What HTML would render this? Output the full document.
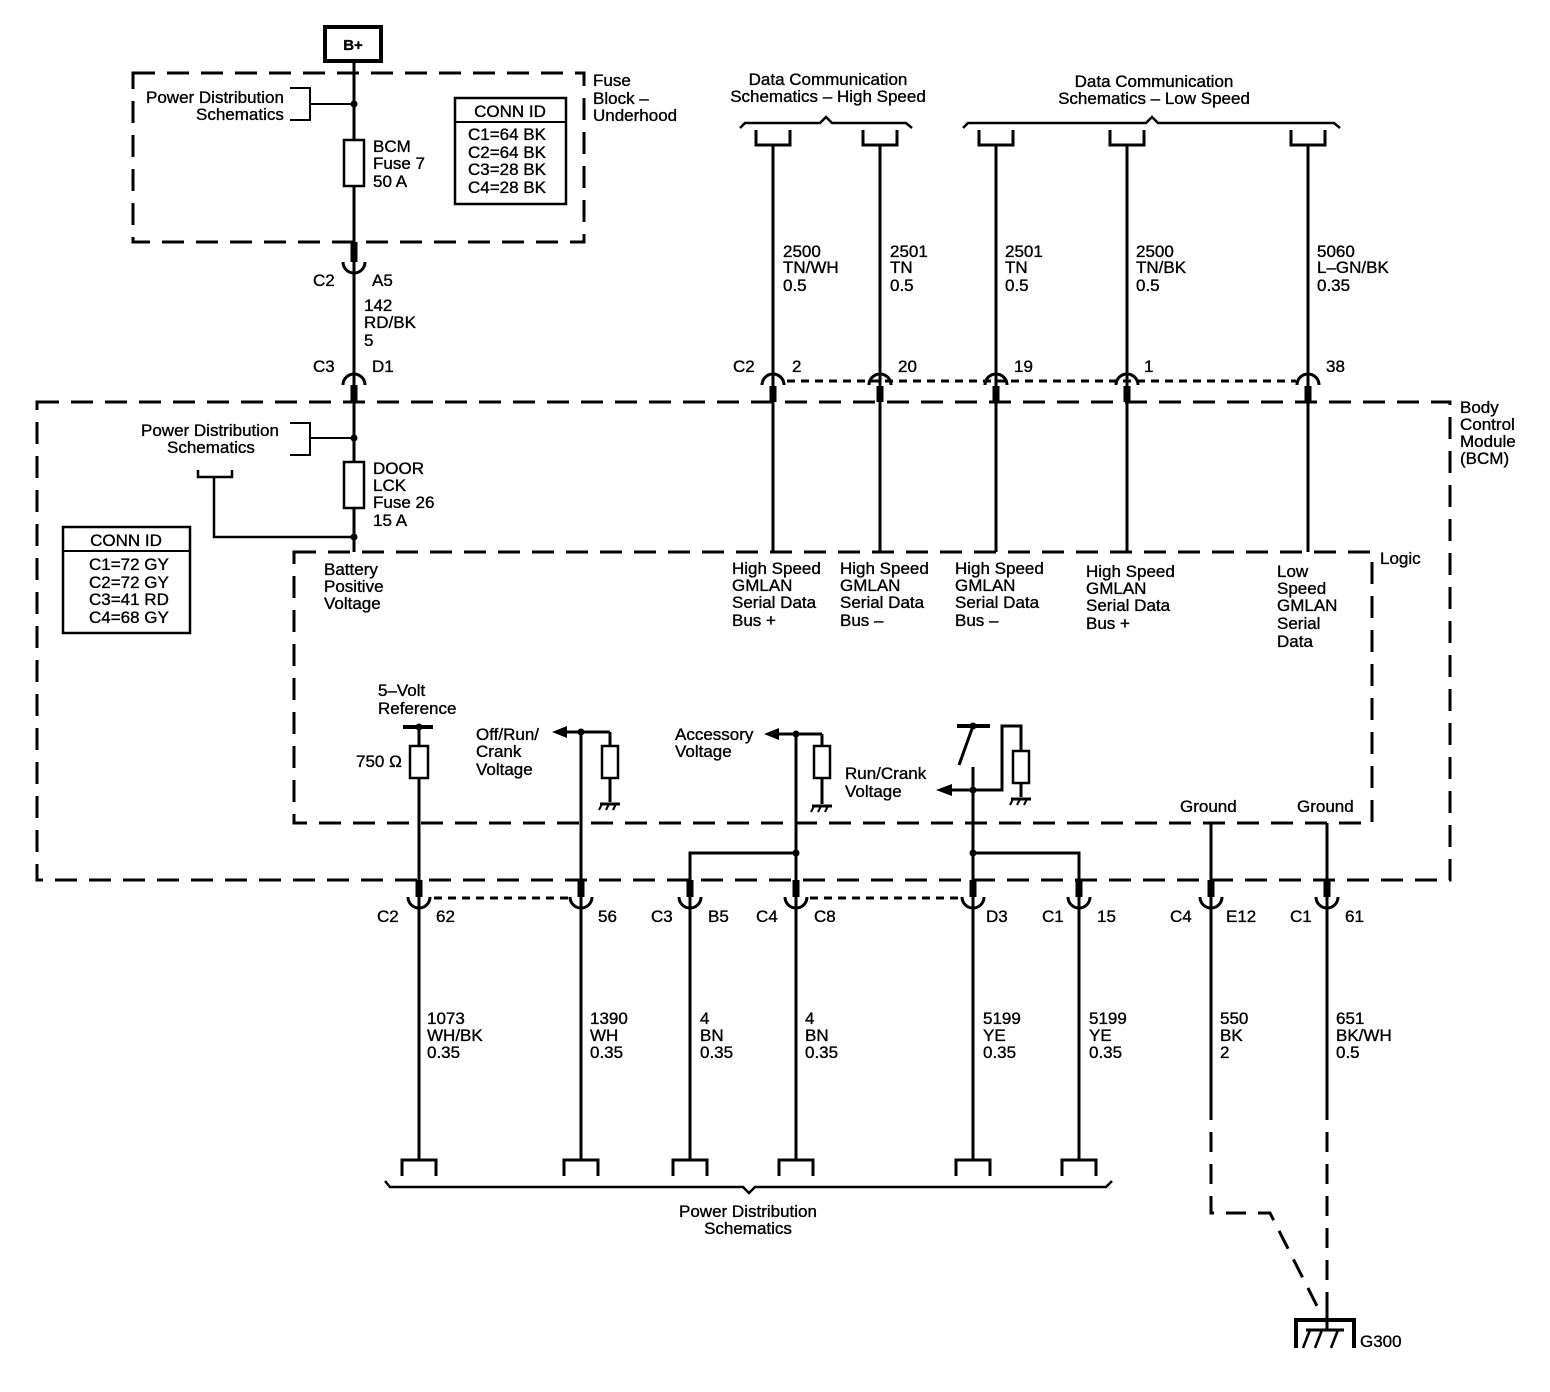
<!DOCTYPE html>
<html><head><meta charset="utf-8"><style>
html,body{margin:0;padding:0;background:#fff}
svg{display:block}
text{font-family:"Liberation Sans",Arial,sans-serif;font-size:17px;fill:#000;stroke:#000;stroke-width:0.35px}
</style></head><body>
<svg width="1550" height="1392" viewBox="0 0 1550 1392" xmlns="http://www.w3.org/2000/svg">
<defs>
<g id="gnd"><line x1="-10" y1="0" x2="10" y2="0" stroke="#000" stroke-width="3"/><line x1="-8" y1="0" x2="-11" y2="6" stroke="#000" stroke-width="2"/><line x1="-1" y1="0" x2="-4" y2="6" stroke="#000" stroke-width="2"/><line x1="6" y1="0" x2="3" y2="6" stroke="#000" stroke-width="2"/></g>
</defs>
<g fill="none" stroke="#000">
<rect x="325" y="27" width="56" height="34" stroke-width="4"/>
<g stroke-width="3" stroke-dasharray="22,12">
<rect x="133" y="73" width="451" height="169"/>
<rect x="37" y="402" width="1413" height="478"/>
<rect x="294" y="552" width="1078" height="271"/>
</g>
<line x1="354" y1="61" x2="354" y2="552" stroke-width="3"/>
<rect x="344" y="140" width="20" height="46" fill="#fff" stroke-width="2.5"/>
<rect x="344" y="462" width="20" height="46" fill="#fff" stroke-width="2.5"/>
<polyline points="290,88 310,88 310,120 290,120" stroke-width="2"/>
<line x1="310" y1="104" x2="354" y2="104" stroke-width="2"/>
<polyline points="290,423 310,423 310,455 290,455" stroke-width="2"/>
<line x1="310" y1="438" x2="354" y2="438" stroke-width="2"/>
<polyline points="198,470 198,477 232,477 232,470" stroke-width="2.5"/>
<polyline points="214,477 214,537 354,537" stroke-width="2.5"/>
<rect x="455" y="98" width="111" height="106" stroke-width="2.5"/>
<line x1="455" y1="122" x2="566" y2="122" stroke-width="2"/>
<rect x="63" y="527" width="127" height="106" stroke-width="2.5"/>
<line x1="63" y1="551" x2="190" y2="551" stroke-width="2"/>
<line x1="354" y1="242" x2="354" y2="262" stroke-width="7"/>
<path d="M343,262 A11,11 0 0 0 365,262" stroke-width="3"/>
<path d="M343,385 A11,11 0 0 1 365,385" stroke-width="3"/>
<line x1="354" y1="385" x2="354" y2="402" stroke-width="7"/>
<g stroke-width="3">
<line x1="773" y1="145" x2="773" y2="552"/>
<line x1="880" y1="145" x2="880" y2="552"/>
<line x1="996" y1="145" x2="996" y2="552"/>
<line x1="1127" y1="145" x2="1127" y2="552"/>
<line x1="1308" y1="145" x2="1308" y2="552"/>
</g>
<g stroke-width="3">
<polyline points="756,130 756,145 790,145 790,130"/>
<polyline points="863,130 863,145 897,145 897,130"/>
<polyline points="979,130 979,145 1013,145 1013,130"/>
<polyline points="1110,130 1110,145 1144,145 1144,130"/>
<polyline points="1291,130 1291,145 1325,145 1325,130"/>
</g>
<path d="M740,128 L745,123 L820,123 L826,117 L832,123 L906,123 L912,128" stroke-width="2.5"/>
<path d="M963,128 L968,123 L1146,123 L1152,117 L1158,123 L1334,123 L1340,128" stroke-width="2.5"/>
<g stroke-width="3">
<path d="M762,385 A11,11 0 0 1 784,385"/>
<path d="M869,385 A11,11 0 0 1 891,385"/>
<path d="M985,385 A11,11 0 0 1 1007,385"/>
<path d="M1116,385 A11,11 0 0 1 1138,385"/>
<path d="M1297,385 A11,11 0 0 1 1319,385"/>
</g>
<line x1="787" y1="381" x2="1296" y2="381" stroke-width="3" stroke-dasharray="8,6"/>
<g stroke-width="7">
<line x1="773" y1="386" x2="773" y2="402"/><line x1="880" y1="386" x2="880" y2="402"/>
<line x1="996" y1="386" x2="996" y2="402"/><line x1="1127" y1="386" x2="1127" y2="402"/>
<line x1="1308" y1="386" x2="1308" y2="402"/>
</g>
<g stroke-width="3">
<line x1="403" y1="727" x2="433" y2="727" stroke-width="4"/>
<line x1="419" y1="727" x2="419" y2="1160"/>
<line x1="565" y1="732" x2="610" y2="732"/>
<line x1="610" y1="732" x2="610" y2="802"/>
<line x1="581" y1="732" x2="581" y2="1160"/>
<line x1="778" y1="734" x2="822" y2="734"/>
<line x1="822" y1="734" x2="822" y2="804"/>
<line x1="796" y1="734" x2="796" y2="1160"/>
<polyline points="690,1160 690,853 796,853"/>
<line x1="957" y1="726" x2="990" y2="726" stroke-width="4"/>
<line x1="973" y1="726" x2="959" y2="765"/>
<line x1="973" y1="767" x2="973" y2="1160"/>
<polyline points="952,790 1002,790 1002,726 1021,726 1021,797"/>
<polyline points="973,853 1079,853 1079,1160"/>
<line x1="1211" y1="823" x2="1211" y2="1100"/>
<line x1="1327" y1="823" x2="1327" y2="1100"/>
</g>
<rect x="410" y="746" width="18" height="32" fill="#fff" stroke-width="2.5"/>
<rect x="602" y="746" width="16" height="32" fill="#fff" stroke-width="2.5"/>
<rect x="814" y="746" width="16" height="32" fill="#fff" stroke-width="2.5"/>
<rect x="1013" y="751" width="16" height="32" fill="#fff" stroke-width="2.5"/>
<use href="#gnd" x="610" y="804"/>
<use href="#gnd" x="822" y="806"/>
<use href="#gnd" x="1021" y="799"/>
<g fill="#000" stroke="none">
<circle cx="354" cy="104" r="3.5"/><circle cx="354" cy="438" r="3.5"/><circle cx="354" cy="537" r="3.5"/>
<circle cx="419" cy="727" r="3.5"/><circle cx="581" cy="732" r="3.5"/><circle cx="796" cy="734" r="3.5"/>
<circle cx="796" cy="853" r="3.5"/><circle cx="973" cy="853" r="3.5"/><circle cx="973" cy="790" r="3.5"/><circle cx="973" cy="726" r="3.5"/>
<polygon points="552,732 567,726 567,738"/>
<polygon points="764,734 779,728 779,740"/>
<polygon points="936,790 952,784 952,796"/>
</g>
<g stroke-width="7">
<line x1="419" y1="880" x2="419" y2="897"/><line x1="581" y1="880" x2="581" y2="897"/>
<line x1="690" y1="880" x2="690" y2="897"/><line x1="796" y1="880" x2="796" y2="897"/>
<line x1="973" y1="880" x2="973" y2="897"/><line x1="1079" y1="880" x2="1079" y2="897"/>
<line x1="1211" y1="880" x2="1211" y2="897"/><line x1="1327" y1="880" x2="1327" y2="897"/>
</g>
<g stroke-width="3">
<path d="M408,897 A11,11 0 0 0 430,897"/><path d="M570,897 A11,11 0 0 0 592,897"/>
<path d="M679,897 A11,11 0 0 0 701,897"/><path d="M785,897 A11,11 0 0 0 807,897"/>
<path d="M962,897 A11,11 0 0 0 984,897"/><path d="M1068,897 A11,11 0 0 0 1090,897"/>
<path d="M1200,897 A11,11 0 0 0 1222,897"/><path d="M1316,897 A11,11 0 0 0 1338,897"/>
</g>
<line x1="434" y1="898" x2="568" y2="898" stroke-width="3" stroke-dasharray="8,6"/>
<line x1="810" y1="898" x2="960" y2="898" stroke-width="3" stroke-dasharray="8,6"/>
<g stroke-width="3">
<polyline points="402,1176 402,1160 436,1160 436,1176"/>
<polyline points="564,1176 564,1160 598,1160 598,1176"/>
<polyline points="673,1176 673,1160 707,1160 707,1176"/>
<polyline points="779,1176 779,1160 813,1160 813,1176"/>
<polyline points="956,1176 956,1160 990,1160 990,1176"/>
<polyline points="1062,1176 1062,1160 1096,1160 1096,1176"/>
</g>
<path d="M385,1181 L390,1187 L743,1187 L749,1193 L755,1187 L1106,1187 L1112,1181" stroke-width="2.5"/>
<g stroke-width="3" stroke-dasharray="20,12">
<polyline points="1211,1100 1211,1213 1270,1213 1318,1308"/>
<line x1="1327" y1="1100" x2="1327" y2="1312"/>
</g>
<polyline points="1296,1348 1296,1320 1354,1320 1354,1348" stroke-width="4"/>
<line x1="1306" y1="1330" x2="1344" y2="1330" stroke-width="3"/>
<line x1="1327" y1="1312" x2="1327" y2="1330" stroke-width="3"/>
<line x1="1310" y1="1330" x2="1303" y2="1348" stroke-width="2.5"/>
<line x1="1322" y1="1330" x2="1315" y2="1348" stroke-width="2.5"/>
<line x1="1338" y1="1330" x2="1331" y2="1348" stroke-width="2.5"/>
</g>
<text x="353" y="50" text-anchor="middle" font-weight="bold" style="font-size:15px">B+</text>
<text x="593" y="86">Fuse</text><text x="593" y="104">Block –</text><text x="593" y="121">Underhood</text>
<text x="146" y="103">Power Distribution</text><text x="196" y="120">Schematics</text>
<text x="373" y="152">BCM</text><text x="373" y="169">Fuse 7</text><text x="373" y="187">50 A</text>
<text x="510" y="117" text-anchor="middle">CONN ID</text>
<text x="468" y="140">C1=64 BK</text><text x="468" y="158">C2=64 BK</text><text x="468" y="175">C3=28 BK</text><text x="468" y="193">C4=28 BK</text>
<text x="313" y="286">C2</text><text x="372" y="286">A5</text>
<text x="364" y="311">142</text><text x="364" y="328">RD/BK</text><text x="364" y="346">5</text>
<text x="313" y="372">C3</text><text x="372" y="372">D1</text>
<text x="828" y="85" text-anchor="middle">Data Communication</text><text x="828" y="102" text-anchor="middle">Schematics – High Speed</text>
<text x="1154" y="87" text-anchor="middle">Data Communication</text><text x="1154" y="104" text-anchor="middle">Schematics – Low Speed</text>
<text x="783" y="257">2500</text><text x="783" y="273">TN/WH</text><text x="783" y="291">0.5</text>
<text x="890" y="257">2501</text><text x="890" y="273">TN</text><text x="890" y="291">0.5</text>
<text x="1005" y="257">2501</text><text x="1005" y="273">TN</text><text x="1005" y="291">0.5</text>
<text x="1136" y="257">2500</text><text x="1136" y="273">TN/BK</text><text x="1136" y="291">0.5</text>
<text x="1317" y="257">5060</text><text x="1317" y="273">L–GN/BK</text><text x="1317" y="291">0.35</text>
<text x="733" y="372">C2</text><text x="792" y="372">2</text><text x="898" y="372">20</text><text x="1014" y="372">19</text><text x="1144" y="372">1</text><text x="1326" y="372">38</text>
<text x="1460" y="413">Body</text><text x="1460" y="430">Control</text><text x="1460" y="447">Module</text><text x="1460" y="464">(BCM)</text>
<text x="141" y="436">Power Distribution</text><text x="167" y="453">Schematics</text>
<text x="373" y="474">DOOR</text><text x="373" y="491">LCK</text><text x="373" y="508">Fuse 26</text><text x="373" y="526">15 A</text>
<text x="126" y="546" text-anchor="middle">CONN ID</text>
<text x="89" y="570">C1=72 GY</text><text x="89" y="588">C2=72 GY</text><text x="89" y="605">C3=41 RD</text><text x="89" y="623">C4=68 GY</text>
<text x="1380" y="564">Logic</text>
<text x="324" y="575">Battery</text><text x="324" y="592">Positive</text><text x="324" y="609">Voltage</text>
<text x="732" y="574">High Speed</text><text x="732" y="591">GMLAN</text><text x="732" y="608">Serial Data</text><text x="732" y="626">Bus +</text>
<text x="840" y="574">High Speed</text><text x="840" y="591">GMLAN</text><text x="840" y="608">Serial Data</text><text x="840" y="626">Bus –</text>
<text x="955" y="574">High Speed</text><text x="955" y="591">GMLAN</text><text x="955" y="608">Serial Data</text><text x="955" y="626">Bus –</text>
<text x="1086" y="577">High Speed</text><text x="1086" y="594">GMLAN</text><text x="1086" y="611">Serial Data</text><text x="1086" y="629">Bus +</text>
<text x="1277" y="577">Low</text><text x="1277" y="594">Speed</text><text x="1277" y="611">GMLAN</text><text x="1277" y="629">Serial</text><text x="1277" y="647">Data</text>
<text x="378" y="696">5–Volt</text><text x="378" y="714">Reference</text>
<text x="356" y="767">750 Ω</text>
<text x="476" y="740">Off/Run/</text><text x="476" y="757">Crank</text><text x="476" y="775">Voltage</text>
<text x="675" y="740">Accessory</text><text x="675" y="757">Voltage</text>
<text x="845" y="779">Run/Crank</text><text x="845" y="797">Voltage</text>
<text x="1180" y="812">Ground</text><text x="1297" y="812">Ground</text>
<text x="377" y="922">C2</text><text x="436" y="922">62</text><text x="598" y="922">56</text>
<text x="651" y="922">C3</text><text x="708" y="922">B5</text><text x="756" y="922">C4</text><text x="814" y="922">C8</text>
<text x="986" y="922">D3</text><text x="1042" y="922">C1</text><text x="1097" y="922">15</text>
<text x="1170" y="922">C4</text><text x="1226" y="922">E12</text><text x="1290" y="922">C1</text><text x="1345" y="922">61</text>
<text x="427" y="1024">1073</text><text x="427" y="1041">WH/BK</text><text x="427" y="1058">0.35</text>
<text x="590" y="1024">1390</text><text x="590" y="1041">WH</text><text x="590" y="1058">0.35</text>
<text x="700" y="1024">4</text><text x="700" y="1041">BN</text><text x="700" y="1058">0.35</text>
<text x="805" y="1024">4</text><text x="805" y="1041">BN</text><text x="805" y="1058">0.35</text>
<text x="983" y="1024">5199</text><text x="983" y="1041">YE</text><text x="983" y="1058">0.35</text>
<text x="1089" y="1024">5199</text><text x="1089" y="1041">YE</text><text x="1089" y="1058">0.35</text>
<text x="1220" y="1024">550</text><text x="1220" y="1041">BK</text><text x="1220" y="1058">2</text>
<text x="1336" y="1024">651</text><text x="1336" y="1041">BK/WH</text><text x="1336" y="1058">0.5</text>
<text x="748" y="1217" text-anchor="middle">Power Distribution</text><text x="748" y="1234" text-anchor="middle">Schematics</text>
<text x="1360" y="1347">G300</text>
</svg>
</body></html>
